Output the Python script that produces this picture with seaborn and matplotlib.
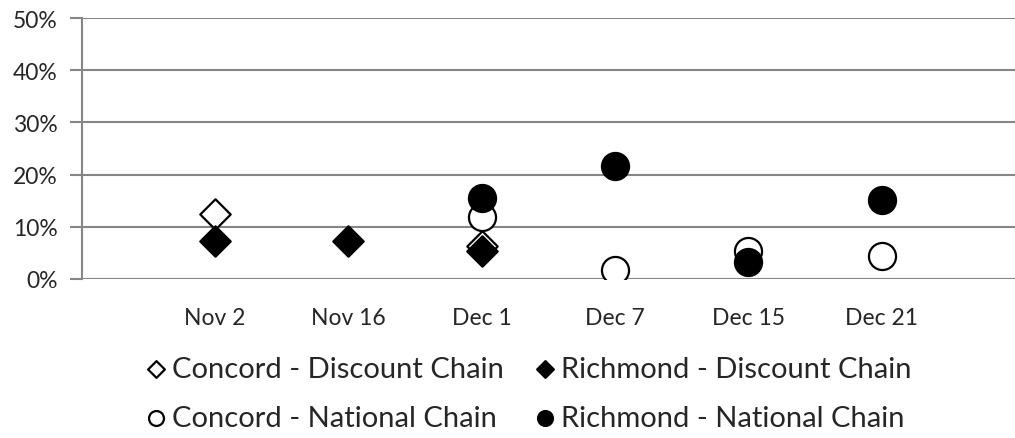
import numpy as np
import pandas as pd
import seaborn as sns
import matplotlib.pyplot as plt
from matplotlib.ticker import PercentFormatter

# values (percent)
dates = ["Nov 2", "Nov 16", "Dec 1", "Dec 7", "Dec 15", "Dec 21"]
concord_discount = [12.5, np.nan, 6.3, np.nan, np.nan, np.nan]
richmond_discount = [7.3, 7.3, 5.4, np.nan, np.nan, np.nan]
concord_national = [np.nan, np.nan, 11.9, 1.7, 5.4, 4.5]
richmond_national = [np.nan, np.nan, 15.5, 21.7, 3.3, 15.1]

series = [
    ("Concord - Discount Chain", concord_discount, "D", "white"),
    ("Richmond - Discount Chain", richmond_discount, "D", "black"),
    ("Concord - National Chain", concord_national, "o", "white"),
    ("Richmond - National Chain", richmond_national, "o", "black"),
]

sns.set_style("white")
plt.rcParams['font.family'] = ['Lato', 'DejaVu Sans']

fig = plt.figure(figsize=(10.15, 4.39), dpi=100)
ax = fig.add_axes([0.0803, 0.3622, 0.9197, 0.5945])

df = pd.DataFrame({"date": dates, "pos": np.arange(1, len(dates) + 1)})
grid_col = "#868686"

for label, vals, marker, face in series:
    df[label] = vals
    size = 240 if marker == "D" else 380
    sns.scatterplot(data=df, x="pos", y=label, ax=ax, marker=marker, s=size,
                    color=face, edgecolor="black", linewidth=1.6, label=label,
                    zorder=3)

ax.set_xlim(0, 7)
ax.set_ylim(0, 50)
ax.set_yticks(range(0, 51, 10))
ax.yaxis.set_major_formatter(PercentFormatter(decimals=0))
ax.set_xticks(df["pos"])
ax.set_xticklabels(dates)
ax.set_xlabel("")
ax.set_ylabel("")
ax.grid(axis="y", color=grid_col, linewidth=1.5)
ax.grid(axis="x", visible=False)
for side in ["top", "right", "bottom"]:
    ax.spines[side].set_visible(False)
ax.spines["left"].set_color(grid_col)
ax.spines["left"].set_linewidth(1.5)
ax.tick_params(axis="y", length=9, width=1.5, color=grid_col, labelsize=16.5,
               pad=8, left=True)
ax.tick_params(axis="x", length=0, labelsize=16.5, pad=20)

h, l = ax.get_legend_handles_labels()
ax.get_legend().remove()
order = [0, 2, 1, 3]
fig.legend([h[i] for i in order], [l[i] for i in order], ncol=2,
           loc="center", bbox_to_anchor=(0.52, 0.102), frameon=False,
           fontsize=21, markerscale=0.55, handletextpad=0.15,
           columnspacing=1.0, labelspacing=0.8, handlelength=0.8)

fig.savefig("out.png", dpi=100)
